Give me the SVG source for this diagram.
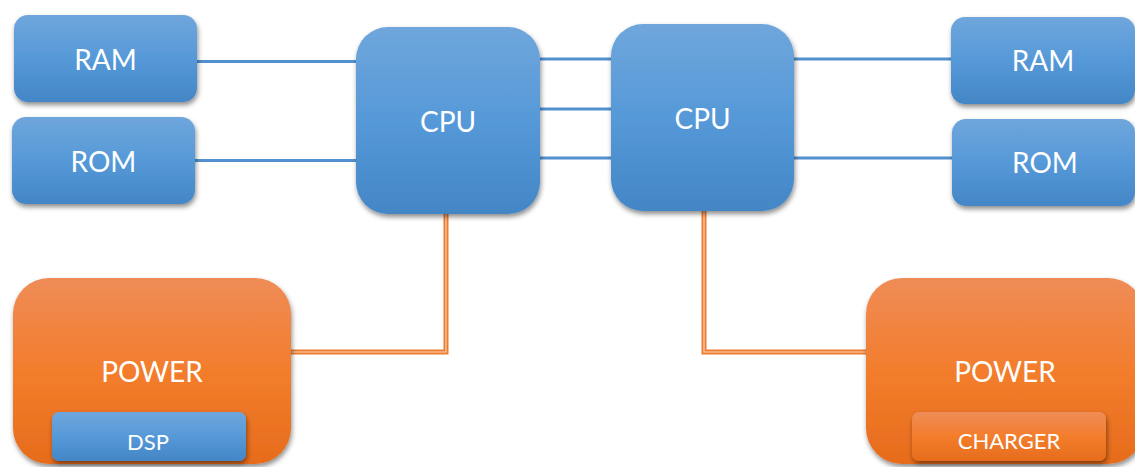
<svg xmlns="http://www.w3.org/2000/svg" width="1135" height="467" viewBox="0 0 1135 467">
<defs>
<linearGradient id="gBlue" x1="0" y1="0" x2="0" y2="1">
<stop offset="0" stop-color="#6fa6dc"/>
<stop offset="0.5" stop-color="#5699d8"/>
<stop offset="1" stop-color="#4386c6"/>
</linearGradient>
<linearGradient id="gOrange" x1="0" y1="0" x2="0" y2="1">
<stop offset="0" stop-color="#ef8c57"/>
<stop offset="0.5" stop-color="#f37d2c"/>
<stop offset="1" stop-color="#e66c1c"/>
</linearGradient>
<filter id="sh" x="-10%" y="-10%" width="125%" height="130%">
<feDropShadow dx="1" dy="3" stdDeviation="2.5" flood-color="#000" flood-opacity="0.45"/>
</filter>
</defs>
<style>
.blue{fill:url(#gBlue);filter:url(#sh)}
.orange{fill:url(#gOrange);filter:url(#sh)}
.t{font-family:Lato,"Liberation Sans",sans-serif;fill:#fff;text-anchor:middle}
.big{font-size:28px}
.small{font-size:22px}
.bl{stroke:#5291cf;stroke-width:3;fill:none}
.ol{stroke:#ed7d31;stroke-width:5;fill:none}
.ow{stroke:#fbd3b8;stroke-width:1.2;fill:none}
</style>
<g id="connectors">
<line class="bl" x1="197" y1="61.5" x2="356" y2="61.5"/>
<line class="bl" x1="195" y1="160.5" x2="356" y2="160.5"/>
<line class="bl" x1="540" y1="59" x2="611" y2="59"/>
<line class="bl" x1="540" y1="109" x2="611" y2="109"/>
<line class="bl" x1="540" y1="158" x2="611" y2="158"/>
<line class="bl" x1="794" y1="59" x2="951" y2="59"/>
<line class="bl" x1="794" y1="158" x2="952" y2="158"/>
<path class="ol" d="M446,214 V352 H291"/>
<path class="ow" d="M446,214 V352 H291"/>
<path class="ol" d="M704,211 V352 H866"/>
<path class="ow" d="M704,211 V352 H866"/>
</g>
<g id="ram-left">
<rect class="blue" x="14" y="15" width="183" height="87" rx="14"/>
<text class="t big" x="105.5" y="70">RAM</text>
</g>
<g id="rom-left">
<rect class="blue" x="12" y="117" width="183" height="87" rx="14"/>
<text class="t big" x="103.5" y="172">ROM</text>
</g>
<g id="cpu-left">
<rect class="blue" x="356" y="27" width="184" height="187" rx="32"/>
<text class="t big" x="448" y="132">CPU</text>
</g>
<g id="cpu-right">
<rect class="blue" x="611" y="24" width="183" height="187" rx="32"/>
<text class="t big" x="702.5" y="129">CPU</text>
</g>
<g id="ram-right">
<rect class="blue" x="951" y="17" width="184" height="87" rx="14"/>
<text class="t big" x="1043" y="71">RAM</text>
</g>
<g id="rom-right">
<rect class="blue" x="952" y="119" width="183" height="87" rx="14"/>
<text class="t big" x="1045" y="173">ROM</text>
</g>
<g id="power-left">
<rect class="orange" x="13" y="278" width="278" height="186" rx="36"/>
<text class="t big" x="152" y="382">POWER</text>
</g>
<g id="dsp">
<rect class="blue" x="52" y="412" width="194" height="49" rx="7"/>
<text class="t small" x="148" y="450">DSP</text>
</g>
<g id="power-right">
<rect class="orange" x="866" y="278" width="278" height="186" rx="36"/>
<text class="t big" x="1005" y="382">POWER</text>
</g>
<g id="charger">
<rect class="orange" x="912" y="412" width="194" height="49" rx="7"/>
<text class="t small" x="1009" y="449">CHARGER</text>
</g>
</svg>
